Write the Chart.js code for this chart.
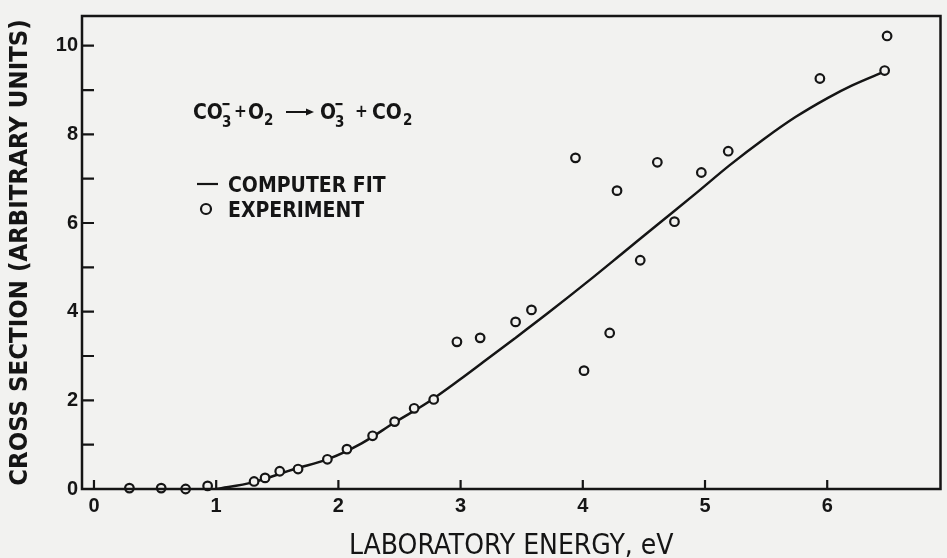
<!DOCTYPE html>
<html><head><meta charset="utf-8">
<script src="https://cdn.jsdelivr.net/npm/chart.js@4.4.1/dist/chart.umd.min.js"></script>
<style>html,body{margin:0;padding:0;background:#f2f2f0;overflow:hidden}</style></head>
<body><canvas id="c" width="947" height="558"></canvas>
<script>
// ---- data ----
const xTickValues = [0, 1, 2, 3, 4, 5, 6];
const yTickValues = [0, 1, 2, 3, 4, 5, 6, 7, 8, 9, 10];
const yLabelValues = [0, 2, 4, 6, 8, 10];
const expEnergy = [0.29, 0.55, 0.75, 0.93, 1.31, 1.40, 1.52, 1.67, 1.91, 2.07, 2.28, 2.46, 2.62, 2.78, 2.97, 3.16, 3.45, 3.58, 3.94, 4.01, 4.22, 4.28, 4.47, 4.61, 4.75, 4.97, 5.19, 5.94, 6.49, 6.47];
const expCross  = [0.02, 0.02, 0.0, 0.07, 0.17, 0.25, 0.40, 0.45, 0.67, 0.90, 1.20, 1.52, 1.82, 2.02, 3.32, 3.41, 3.77, 4.04, 7.47, 2.67, 3.52, 6.73, 5.16, 7.37, 6.03, 7.14, 7.62, 9.26, 10.22, 9.44];
const fitEnergy = [1.0, 1.3, 1.64, 1.92, 2.19, 2.46, 2.73, 3.0, 3.17, 3.44, 3.72, 4.05, 4.33, 4.6, 4.93, 5.2, 5.48, 5.74, 6.01, 6.2, 6.47];
const fitCross  = [0.0, 0.15, 0.45, 0.68, 1.03, 1.50, 1.95, 2.48, 2.83, 3.39, 3.98, 4.70, 5.33, 5.94, 6.68, 7.30, 7.89, 8.39, 8.83, 9.10, 9.42];
const xTitle = 'LABORATORY ENERGY, eV';
const yTitle = 'CROSS SECTION (ARBITRARY UNITS)';
const legendFit = 'COMPUTER FIT';
const legendExp = 'EXPERIMENT';

const INK = '#151515';
const BG = '#f2f2f0';
const NARROW = "'Liberation Sans Narrow','DejaVu Sans Condensed','Liberation Sans',sans-serif";

const framePlugin = {
  id: 'frame',
  beforeDraw(chart) {
    const ctx = chart.ctx;
    ctx.save();
    ctx.fillStyle = BG;
    ctx.fillRect(0, 0, chart.width, chart.height);
    ctx.restore();
  },
  afterDraw(chart) {
    const ctx = chart.ctx, a = chart.chartArea;
    const xs = chart.scales.x, ys = chart.scales.y;
    ctx.save();
    ctx.strokeStyle = INK;
    ctx.lineWidth = 2.5;
    ctx.strokeRect(a.left, a.top, a.right - a.left, a.bottom - a.top);
    ctx.lineWidth = 2.2;
    ctx.beginPath();
    xTickValues.forEach(v => {
      const px = xs.getPixelForValue(v);
      ctx.moveTo(px, a.bottom); ctx.lineTo(px, a.bottom - 9);
    });
    yTickValues.forEach(v => {
      if (v === 0) return;
      const py = ys.getPixelForValue(v);
      ctx.moveTo(a.left, py); ctx.lineTo(a.left + 12, py);
    });
    ctx.stroke();

    // equation
    ctx.fillStyle = INK;
    ctx.textBaseline = 'alphabetic';
    const big = "bold 21px " + NARROW;
    const small = "bold 15px " + NARROW;
    const plus = "bold 17px " + NARROW;
    const put = (t, x, y, f) => { ctx.font = f; ctx.fillText(t, x, y); };
    const bar = (x, y) => { ctx.fillRect(x, y, 7, 2.2); };
    const by = 119;
    put('CO', 193, by, big);
    put('3', 222, by + 8, small);
    bar(222.5, by - 16);
    put('+', 234, by - 2, plus);
    put('O', 248, by, big);
    put('2', 264, by + 6, small);
    // arrow
    ctx.beginPath();
    ctx.lineWidth = 2;
    ctx.moveTo(286, by - 7); ctx.lineTo(311, by - 7);
    ctx.stroke();
    ctx.beginPath();
    ctx.moveTo(314, by - 7); ctx.lineTo(306, by - 10.5); ctx.lineTo(306, by - 3.5); ctx.closePath();
    ctx.fill();
    put('O', 320, by, big);
    put('3', 335, by + 8, small);
    bar(335.5, by - 16);
    put('+', 355, by - 2, plus);
    put('CO', 372, by, big);
    put('2', 403, by + 6, small);

    // legend
    ctx.lineWidth = 2.2;
    ctx.beginPath();
    ctx.moveTo(197, 184); ctx.lineTo(218, 184);
    ctx.stroke();
    ctx.font = "bold 21px " + NARROW;
    ctx.fillText(legendFit, 228, 192);
    ctx.beginPath();
    ctx.arc(206, 209, 5, 0, Math.PI * 2);
    ctx.stroke();
    ctx.fillText(legendExp, 228, 217);
    ctx.restore();
  }
};

new Chart(document.getElementById('c'), {
  type: 'scatter',
  data: {
    datasets: [
      {
        label: legendExp,
        data: expEnergy.map((x, i) => ({ x, y: expCross[i] })),
        pointStyle: 'circle',
        pointRadius: 4.3,
        borderWidth: 2.2,
        borderColor: INK,
        backgroundColor: BG,
        clip: false,
        order: 0
      },
      {
        label: legendFit,
        data: fitEnergy.map((x, i) => ({ x, y: fitCross[i] })),
        showLine: true,
        pointRadius: 0,
        borderColor: INK,
        borderWidth: 2.5,
        cubicInterpolationMode: 'monotone',
        order: 1
      }
    ]
  },
  options: {
    responsive: false,
    animation: false,
    devicePixelRatio: 1,
    layout: { padding: { left: 0, top: 13, right: 1, bottom: 0 } },
    plugins: { legend: { display: false }, tooltip: { enabled: false } },
    scales: {
      x: {
        type: 'linear', min: -0.098, max: 6.927,
        afterFit(s) { s.height = 69; },
        afterBuildTicks(s) { s.ticks = xTickValues.map(v => ({ value: v })); },
        grid: { display: false, drawTicks: false },
        border: { display: false },
        ticks: { padding: 5, color: INK, font: { family: "'Liberation Sans',sans-serif", weight: 'bold', size: 20 } },
        title: { display: true, text: xTitle, color: INK, padding: { top: 0, bottom: 0 },
                 font: { family: NARROW, size: 28, lineHeight: 0.8 } }
      },
      y: {
        type: 'linear', min: 0, max: 10.67,
        afterFit(s) { s.width = 82; },
        afterBuildTicks(s) { s.ticks = yTickValues.map(v => ({ value: v })); },
        grid: { display: false, drawTicks: false },
        border: { display: false },
        ticks: { padding: 4, color: INK, font: { family: "'Liberation Sans',sans-serif", weight: 'bold', size: 20 },
                 callback: v => yLabelValues.includes(v) ? String(v) : '' },
        title: { display: true, text: yTitle, color: INK, padding: { top: 8, bottom: 0 },
                 font: { family: NARROW, weight: 'bold', size: 25.5, lineHeight: 1 } }
      }
    }
  },
  plugins: [framePlugin]
});
</script></body></html>
